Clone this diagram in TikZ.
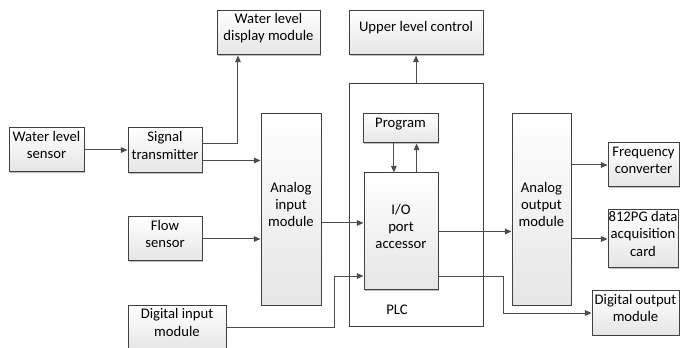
\documentclass[tikz,border=0pt]{standalone}
\usepackage{fontspec}
\setmainfont{Carlito}
\usetikzlibrary{fit,shadows,arrows.meta,calc}
\tikzset{
  box/.style={draw=black!75, line width=0.75pt, top color=white, bottom color=black!10,
    inner sep=0pt, align=center, font=\fontsize{11}{12.9}\selectfont,
    drop shadow={shadow xshift=0.9pt, shadow yshift=-0.9pt, fill=black, opacity=0.25}},
  plcbox/.style={draw=black!75, line width=0.75pt, fill=white, inner sep=0pt},
  arr/.style={draw=black!70, line width=0.75pt, -{Triangle[length=5pt,width=4.2pt]}},
  lbl/.style={font=\fontsize{11}{12.9}\selectfont}
}
\begin{document}
\begin{tikzpicture}[x=0.75pt,y=-0.75pt]
\useasboundingbox (0,0) rectangle (680,348);
\node[plcbox, fit={(349,84) (483,326)}] (plc) {};
\node[lbl] (plclbl) at (397,310) {PLC};
\node[box, fit={(9,128) (84,172)}] (wls) {Water level\\sensor};
\node[box, fit={(128,128) (202,173)}] (st) {Signal\\transmitter};
\node[box, fit={(217,11) (320,55)}] (disp) {Water level\\display module};
\node[box, fit={(261,114) (321,305)}] (aim) {Analog\\input\\module};
\node[box, fit={(128,217) (202,261)}] (flow) {Flow\\sensor};
\node[box, fit={(128,305) (226,350)}] (di) {Digital input\\module};
\node[box, fit={(349,11) (483,55)}] (ulc) {Upper level control};
\node[box, fit={(363,114) (438,143)}] (prog) {Program};
\node[box, fit={(364,173) (438,290)}] (io) {I/O\\port\\accessor};
\node[box, fit={(512,114) (571,305)}] (aom) {Analog\\output\\module};
\node[box, fit={(608,143) (679,187)}] (freq) {Frequency\\converter};
\node[box, fit={(608,210) (678,268)}] (pg) {812PG data\\acquisition\\card};
\node[box, fit={(592,291) (679,335)}] (dout) {Digital output\\module};

\draw[arr] (wls.east) -- (wls.east -| st.west);
\draw[arr] ([yshift=5.6pt]st.east) -| ([xshift=-22.9pt]disp.south);
\draw[arr] ([yshift=-7.5pt]st.east) coordinate (a1) -- (a1 -| aim.west);
\draw[arr] (flow.east) -- (flow.east -| aim.west);
\draw[arr] ([yshift=-10.1pt]aim.east) coordinate (a2) -- (a2 -| io.west);
\coordinate (ioin2) at ([yshift=-33.4pt]io.west);
\draw[arr] (di.east) -| ([xshift=-21.75pt]ioin2) -- (ioin2);
\draw[arr] (plc.north) -- (ulc.south);
\draw[arr] ([xshift=-5pt]prog.south) coordinate (a3) -- (a3 |- io.north);
\draw[arr] ([xshift=11.7pt]io.north) coordinate (a4) -- (a4 |- prog.south);
\draw[arr] (io.east) -- (io.east -| aom.west);
\draw[arr] ([yshift=-33.4pt]io.east) -| ([xshift=-66pt]dout.west) -- (dout.west);
\draw[arr] (freq.west -| aom.east) -- (freq.west);
\draw[arr] (pg.west -| aom.east) -- (pg.west);
\end{tikzpicture}
\end{document}
